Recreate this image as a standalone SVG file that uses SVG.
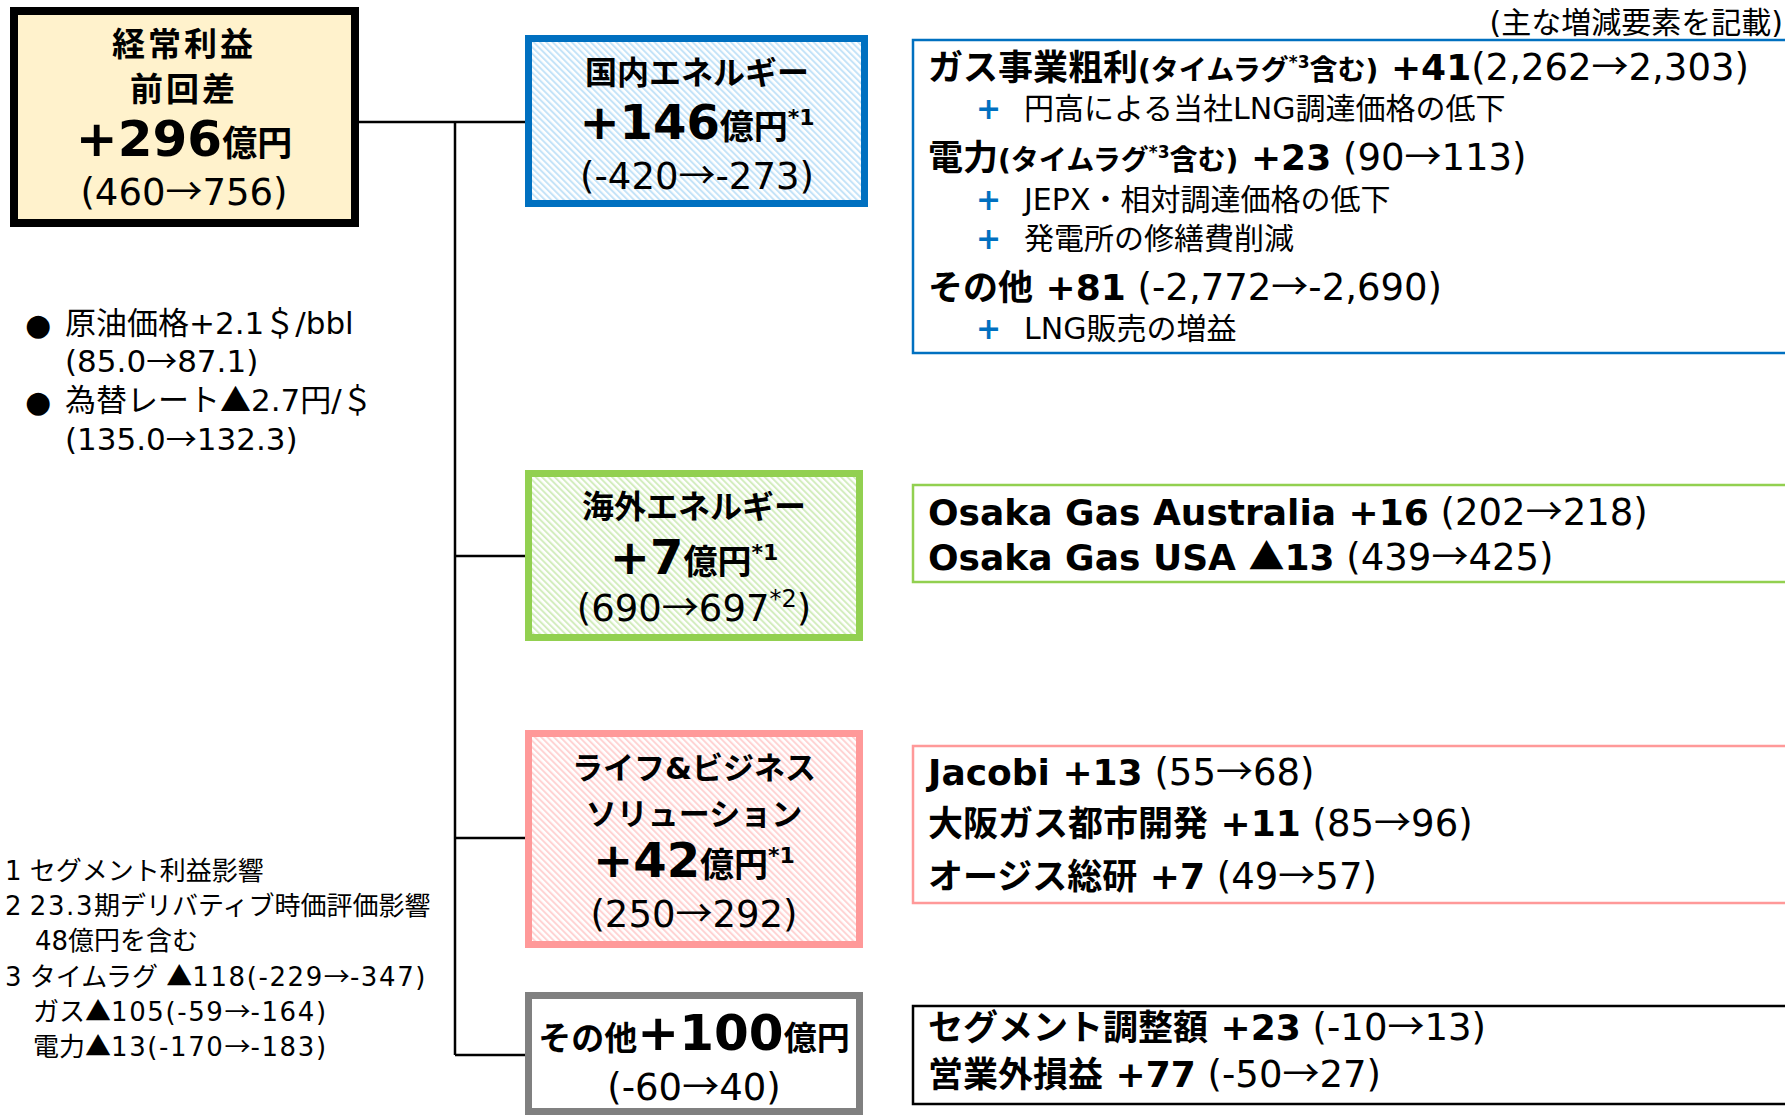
<svg xmlns="http://www.w3.org/2000/svg" width="1785" height="1116" viewBox="0 0 1785 1116">
<style>
text{font-family:"DejaVu Sans","Noto Sans CJK JP",sans-serif;fill:#000}
.b{font-weight:bold}
.m{text-anchor:middle}
.w{font-family:"Noto Sans CJK JP",sans-serif}
.n{letter-spacing:1.6px}
.pl{fill:#0070C0;font-weight:bold}
.ln{stroke:#000;stroke-width:2.5;fill:none}
</style>
<defs>
<pattern id="hb" width="4.5" height="4.5" patternUnits="userSpaceOnUse" patternTransform="rotate(-45)"><rect width="4.5" height="4.5" fill="#fff"/><rect width="2" height="4.5" fill="#C4E3F8"/></pattern>
<pattern id="hg" width="4.5" height="4.5" patternUnits="userSpaceOnUse" patternTransform="rotate(-45)"><rect width="4.5" height="4.5" fill="#fff"/><rect width="2" height="4.5" fill="#D3EDBE"/></pattern>
<pattern id="hp" width="4.5" height="4.5" patternUnits="userSpaceOnUse" patternTransform="rotate(-45)"><rect width="4.5" height="4.5" fill="#fff"/><rect width="2" height="4.5" fill="#FFD3D3"/></pattern>
</defs>
<rect width="1785" height="1116" fill="#fff"/>

<g id="connectors">
<path class="ln" d="M359 122H525M455 122V1055M455 556H525M455 838H525M455 1055H525"/>
</g>

<g id="total">
<rect x="14" y="11" width="341" height="212" fill="#FFF2CC" stroke="#000" stroke-width="8"/>
<text class="b m" x="184" y="56" font-size="33" letter-spacing="3">経常利益</text>
<text class="b m" x="184" y="101" font-size="33" letter-spacing="3">前回差</text>
<text class="b m" x="184" y="156"><tspan font-size="50">+296</tspan><tspan font-size="35">億円</tspan></text>
<text class="m" x="184" y="205" font-size="37">(460<tspan class="w">→</tspan>756)</text>
</g>

<g id="domestic">
<rect x="528.5" y="38.5" width="336" height="165" fill="url(#hb)" stroke="#0070C0" stroke-width="7"/>
<text class="b m" x="697" y="84" font-size="32">国内エネルギー</text>
<text class="b m" x="697" y="139"><tspan font-size="48">+146</tspan><tspan font-size="34">億円</tspan><tspan font-size="22" dy="-14">*1</tspan></text>
<text class="m" x="697" y="189" font-size="37">(-420<tspan class="w">→</tspan>-273)</text>
</g>

<g id="overseas">
<rect x="528.5" y="473.5" width="331" height="164" fill="url(#hg)" stroke="#92D050" stroke-width="7"/>
<text class="b m" x="694" y="518" font-size="32">海外エネルギー</text>
<text class="b m" x="694" y="574"><tspan font-size="48">+7</tspan><tspan font-size="34">億円</tspan><tspan font-size="22" dy="-14">*1</tspan></text>
<text class="m" x="694" y="621" font-size="37">(690<tspan class="w">→</tspan>697<tspan font-size="24" dy="-14">*2</tspan><tspan dy="14">)</tspan></text>
</g>

<g id="life">
<rect x="528.5" y="733.5" width="331" height="211" fill="url(#hp)" stroke="#FF9999" stroke-width="7"/>
<text class="b m" x="694" y="779" font-size="31">ライフ&amp;ビジネス</text>
<text class="b m" x="694" y="825" font-size="31">ソリューション</text>
<text class="b m" x="694" y="877"><tspan font-size="48">+42</tspan><tspan font-size="34">億円</tspan><tspan font-size="22" dy="-14">*1</tspan></text>
<text class="m" x="694" y="927" font-size="37">(250<tspan class="w">→</tspan>292)</text>
</g>

<g id="other">
<rect x="528.5" y="995.5" width="331" height="116" fill="#fff" stroke="#808080" stroke-width="7"/>
<text class="b m" x="694" y="1050"><tspan font-size="33">その他</tspan><tspan font-size="50">+100</tspan><tspan font-size="33">億円</tspan></text>
<text class="m" x="694" y="1100" font-size="37">(-60<tspan class="w">→</tspan>40)</text>
</g>

<g id="assumptions">
<text x="25" y="335" font-size="30">●</text>
<text x="65" y="334" font-size="31">原油価格+2.1＄/bbl</text>
<text x="65" y="372" font-size="31">(85.0<tspan class="w">→</tspan>87.1)</text>
<text x="25" y="412" font-size="30">●</text>
<text x="65" y="411" font-size="31">為替レート<tspan class="w">▲</tspan>2.7円/＄</text>
<text x="65" y="450" font-size="31">(135.0<tspan class="w">→</tspan>132.3)</text>
</g>

<g id="footnotes" font-size="26">
<text x="5" y="880">1 セグメント利益影響</text>
<text x="5" y="915">2 <tspan class="n">23.3</tspan>期デリバティブ時価評価影響</text>
<text x="35" y="950">48億円を含む</text>
<text x="5" y="986">3 タイムラグ <tspan class="w">▲</tspan><tspan class="n">118(-229</tspan><tspan class="w">→</tspan><tspan class="n">-347)</tspan></text>
<text x="33" y="1021">ガス<tspan class="w">▲</tspan><tspan class="n">105(-59</tspan><tspan class="w">→</tspan><tspan class="n">-164)</tspan></text>
<text x="33" y="1056">電力<tspan class="w">▲</tspan><tspan class="n">13(-170</tspan><tspan class="w">→</tspan><tspan class="n">-183)</tspan></text>
</g>

<text x="1783" y="33" font-size="30" text-anchor="end">(主な増減要素を記載)</text>

<g id="domestic-detail">
<rect x="913" y="40" width="900" height="313" fill="none" stroke="#0070C0" stroke-width="2.5"/>
<text x="928" y="80"><tspan class="b" font-size="35">ガス事業粗利</tspan><tspan class="b" font-size="28">(タイムラグ</tspan><tspan class="b" font-size="17" dy="-12">*3</tspan><tspan class="b" font-size="28" dy="12">含む)</tspan><tspan class="b" font-size="36"> +41</tspan><tspan font-size="37">(2,262<tspan class="w">→</tspan>2,303)</tspan></text>
<text y="119" font-size="30"><tspan class="pl" x="976">+</tspan><tspan x="1024">円高による当社LNG調達価格の低下</tspan></text>
<text x="928" y="170"><tspan class="b" font-size="35">電力</tspan><tspan class="b" font-size="28">(タイムラグ</tspan><tspan class="b" font-size="17" dy="-12">*3</tspan><tspan class="b" font-size="28" dy="12">含む)</tspan><tspan class="b" font-size="36"> +23</tspan><tspan font-size="37"> (90<tspan class="w">→</tspan>113)</tspan></text>
<text y="210" font-size="30"><tspan class="pl" x="976">+</tspan><tspan x="1024">JEPX・相対調達価格の低下</tspan></text>
<text y="249" font-size="30"><tspan class="pl" x="976">+</tspan><tspan x="1024">発電所の修繕費削減</tspan></text>
<text x="928" y="300"><tspan class="b" font-size="35">その他</tspan><tspan class="b" font-size="36"> +81</tspan><tspan font-size="37"> (-2,772<tspan class="w">→</tspan>-2,690)</tspan></text>
<text y="339" font-size="30"><tspan class="pl" x="976">+</tspan><tspan x="1024">LNG販売の増益</tspan></text>
</g>

<g id="overseas-detail">
<rect x="913" y="485" width="900" height="97" fill="none" stroke="#92D050" stroke-width="2.5"/>
<text x="928" y="525"><tspan class="b" font-size="36">Osaka Gas Australia +16</tspan><tspan font-size="37"> (202<tspan class="w">→</tspan>218)</tspan></text>
<text x="928" y="570"><tspan class="b" font-size="36">Osaka Gas USA <tspan class="w">▲</tspan>13</tspan><tspan font-size="37"> (439<tspan class="w">→</tspan>425)</tspan></text>
</g>

<g id="life-detail">
<rect x="913" y="746" width="900" height="157" fill="none" stroke="#FF9999" stroke-width="2.5"/>
<text x="928" y="785"><tspan class="b" font-size="36">Jacobi +13</tspan><tspan font-size="37"> (55<tspan class="w">→</tspan>68)</tspan></text>
<text x="928" y="836"><tspan class="b" font-size="35">大阪ガス都市開発</tspan><tspan class="b" font-size="36"> +11</tspan><tspan font-size="37"> (85<tspan class="w">→</tspan>96)</tspan></text>
<text x="928" y="889"><tspan class="b" font-size="35">オージス総研</tspan><tspan class="b" font-size="36"> +7</tspan><tspan font-size="37"> (49<tspan class="w">→</tspan>57)</tspan></text>
</g>

<g id="other-detail">
<rect x="913" y="1006" width="900" height="98" fill="none" stroke="#000" stroke-width="2.5"/>
<text x="928" y="1040"><tspan class="b" font-size="35">セグメント調整額</tspan><tspan class="b" font-size="36"> +23</tspan><tspan font-size="37"> (-10<tspan class="w">→</tspan>13)</tspan></text>
<text x="928" y="1087"><tspan class="b" font-size="35">営業外損益</tspan><tspan class="b" font-size="36"> +77</tspan><tspan font-size="37"> (-50<tspan class="w">→</tspan>27)</tspan></text>
</g>
</svg>
